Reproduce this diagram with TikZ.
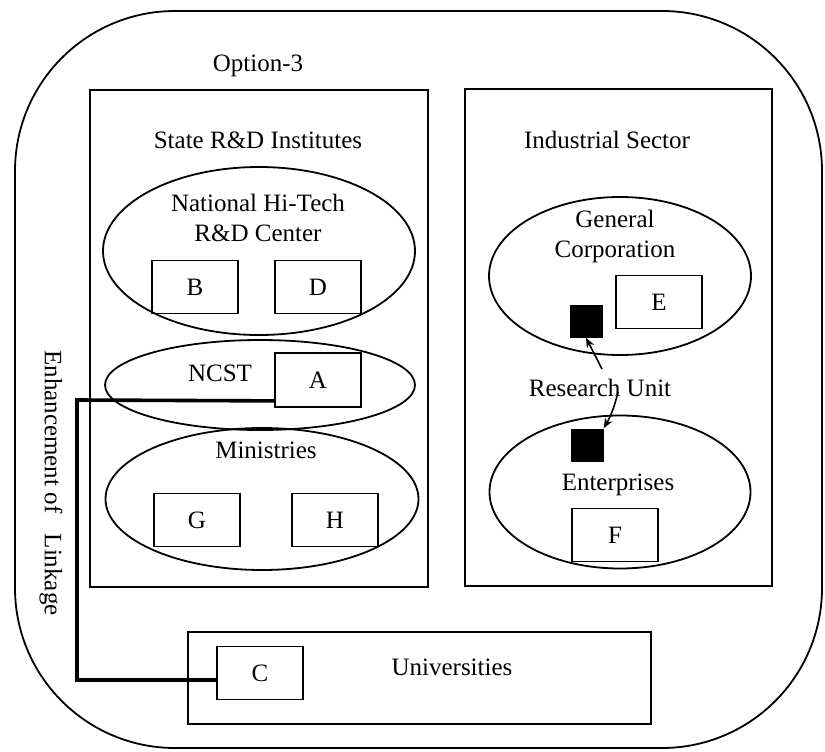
\documentclass[tikz,border=0pt]{standalone}
\usepackage{fontspec}
\setmainfont{Liberation Serif}
\usetikzlibrary{shapes.geometric,arrows.meta}
\begin{document}
\begin{tikzpicture}[x=1pt,y=-1pt,
  every node/.style={font=\fontsize{25}{30}\selectfont},
  lbl/.style={inner sep=0pt, text height=16.5pt, text depth=0pt},
  lbltwo/.style={inner sep=0pt, align=center},
  frame/.style={draw, line width=1.8pt, inner sep=0pt},
  letterbox/.style={draw, line width=1.8pt, inner sep=0pt,
    minimum width=86pt, minimum height=53pt},
  oval/.style={draw, ellipse, line width=1.8pt, inner sep=0pt},
  unitsq/.style={fill=black, inner sep=0pt, minimum size=33pt},
  pointer/.style={line width=1.6pt, -{Stealth[length=10pt,width=8pt]}},
  linkage/.style={line width=3.6pt}]
\path[use as bounding box] (0,0) rectangle (825,752);

% outer frame
\draw[line width=1.8pt, rounded corners=160pt] (15,11) rectangle (822,748);
\node[lbl] (opt) at (258,63) {Option-3};

% containers
\node[frame, minimum width=338pt, minimum height=497pt] (state) at (259,338.5) {};
\node[frame, minimum width=307pt, minimum height=497pt] (indus) at (618.5,337.5) {};
\node[frame, minimum width=463pt, minimum height=92pt] (univ) at (419.5,678) {};

\node[lbl] (statelbl) at (258,140) {State R\&D Institutes};
\node[lbl] (induslbl) at (607,140) {Industrial Sector};
\node[lbl] (univlbl) at (452,667) {Universities};

% state side
\node[oval, minimum width=312pt, minimum height=168pt] (nht) at (259,251) {};
\node[lbltwo] (nhtlbl) at (258,218) {National Hi-Tech\\R\&D Center};
\node[letterbox] (B) at (195,287) {B};
\node[letterbox] (D) at (318,287) {D};

\node[oval, minimum width=310pt, minimum height=90pt] (ncst) at (260,385) {};
\node[lbl] (ncstlbl) at (220,373) {NCST};
\node[letterbox, minimum height=54pt] (A) at (318,380) {A};

\node[oval, minimum width=313pt, minimum height=142pt] (mini) at (262,499) {};
\node[lbl] (minilbl) at (266,450) {Ministries};
\node[letterbox] (G) at (197,520) {G};
\node[letterbox] (H) at (335,520) {H};

% industrial side
\node[oval, minimum width=262pt, minimum height=158pt] (gc) at (620,276) {};
\node[lbltwo] (gclbl) at (615,236) {General\\Corporation};
\node[letterbox] (E) at (659,302) {E};
\node[unitsq] (sq1) at (586,321) {};

\node[lbl] (rulbl) at (600,388) {Research Unit};

\node[oval, minimum width=261pt, minimum height=153pt] (ent) at (620,492) {};
\node[lbl] (entlbl) at (618,482) {Enterprises};
\node[unitsq] (sq2) at (587,445) {};
\node[letterbox] (F) at (615,535) {F};

\node[letterbox] (C) at (260,673) {C};

% research unit pointers
\coordinate (ru1) at (602,369);
\coordinate (ru2) at (618,392);
\draw[pointer] (ru1) -- (sq1.south);
\draw[pointer] (ru2) to[bend left=8] (sq2.north east);

% linkage connector
\coordinate (Aport) at ([yshift=7pt]A.south west);
\coordinate (Cport) at ([yshift=-7pt]C.west);
\coordinate (bend) at (77,400);
\draw[linkage] (Aport) -- (bend) |- (Cport);

\node[lbl, rotate=-90] (linklbl) at (53,483) {Enhancement of\hspace{14pt} Linkage};
\end{tikzpicture}
\end{document}
